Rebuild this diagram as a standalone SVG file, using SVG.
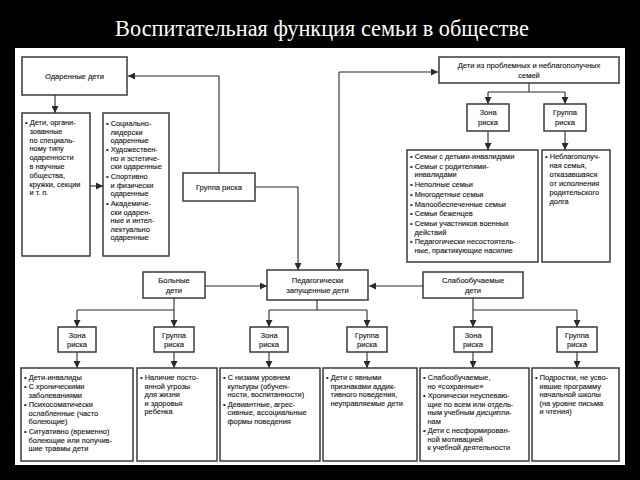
<svg xmlns="http://www.w3.org/2000/svg" width="640" height="480" viewBox="0 0 640 480">
<style>
.box{fill:#fff;stroke:#3a3a3a;stroke-width:1.5}
.t{font-family:"Liberation Sans",Arial,sans-serif;font-size:7.4px;fill:#141414;stroke:#141414;stroke-width:0.12}
.l{font-family:"Liberation Sans",Arial,sans-serif;font-size:7.6px;fill:#141414;stroke:#141414;stroke-width:0.12;text-anchor:middle}
.conn path{fill:none;stroke:#2a2a2a;stroke-width:1.1;marker-end:url(#ar)}
.conn path.n{marker-end:none}
</style>
<defs>
<marker id="ar" markerUnits="userSpaceOnUse" markerWidth="8" markerHeight="7" refX="7" refY="3.5" orient="auto">
<path d="M0,0 L7,3.5 L0,7 z" fill="#2a2a2a"/>
</marker>
</defs>
<rect x="0" y="0" width="640" height="480" fill="#000"/>
<text x="322" y="36" font-family="Liberation Serif,serif" font-size="22.3" fill="#fff" text-anchor="middle">Воспитательная функция семьи в обществе</text>
<rect x="15" y="48" width="610" height="417" fill="#fff"/>

<g class="conn">
<path d="M219,173 V76 H128"/>
<path d="M255,187 H298 V270"/>
<path d="M339,72 V270"/>
<path d="M339,72 H438"/>
<path d="M55,95 V113"/>
<path d="M90,186 H103"/>
<path class="n" d="M529,83 V92 M488,92 H565"/>
<path d="M488,92 V104"/>
<path d="M565,92 V104"/>
<path d="M488,131 V150"/>
<path d="M565,131 V150"/>
<path d="M205,286 H267"/>
<path d="M423,286 H369"/>
<path class="n" d="M174,298 V310 M77,310 H174"/>
<path d="M77,310 V327"/>
<path d="M174,310 V327"/>
<path d="M77,352 V368"/>
<path d="M174,352 V368"/>
<path class="n" d="M317,300 V310 M269,310 H367"/>
<path d="M269,310 V327"/>
<path d="M367,310 V327"/>
<path d="M269,352 V368"/>
<path d="M367,352 V368"/>
<path class="n" d="M473,298 V310 M473,310 H577"/>
<path d="M473,310 V327"/>
<path d="M577,310 V327"/>
<path d="M473,352 V368"/>
<path d="M577,352 V368"/>
</g>

<g id="gifted">
<rect class="box" x="22" y="57" width="105" height="38"/>
<text class="l" x="74.5" y="79">Одаренные дети</text>
</g>
<g id="gifted-list1">
<rect class="box" x="22" y="113" width="68" height="143"/>
<text class="t" x="25" y="125">• Дети, органи-</text>
<text class="t" x="29.5" y="133.8">зованные</text>
<text class="t" x="29.5" y="142.6">по специаль-</text>
<text class="t" x="29.5" y="151.4">ному типу</text>
<text class="t" x="29.5" y="160.2">одаренности</text>
<text class="t" x="29.5" y="169">в научные</text>
<text class="t" x="29.5" y="177.8">общества,</text>
<text class="t" x="29.5" y="186.6">кружки, секции</text>
<text class="t" x="29.5" y="195.4">и т. п.</text>
</g>
<g id="gifted-list2">
<rect class="box" x="103" y="113" width="66" height="143"/>
<text class="t" x="106" y="126">• Социально-</text>
<text class="t" x="110.5" y="134.5">лидерски</text>
<text class="t" x="110.5" y="143">одаренные</text>
<text class="t" x="106" y="152">• Художествен-</text>
<text class="t" x="110.5" y="160.5">но и эстетиче-</text>
<text class="t" x="110.5" y="169">ски одаренные</text>
<text class="t" x="106" y="179">• Спортивно</text>
<text class="t" x="110.5" y="187.5">и физически</text>
<text class="t" x="110.5" y="196">одаренные</text>
<text class="t" x="106" y="206">• Академиче-</text>
<text class="t" x="110.5" y="214.5">ски одарен-</text>
<text class="t" x="110.5" y="223">ные и интел-</text>
<text class="t" x="110.5" y="231.5">лектуально</text>
<text class="t" x="110.5" y="240">одаренные</text>
</g>
<g id="risk-group-top">
<rect class="box" x="183" y="173" width="72" height="28"/>
<text class="l" x="219" y="190">Группа риска</text>
</g>
<g id="families">
<rect class="box" x="439" y="57" width="180" height="26"/>
<text class="l" x="529" y="68">Дети из проблемных и неблагополучных</text>
<text class="l" x="529" y="77.5">семей</text>
</g>
<g id="fam-zone">
<rect class="box" x="467" y="104" width="42" height="27"/>
<text class="l" x="488" y="115">Зона</text>
<text class="l" x="488" y="124.5">риска</text>
</g>
<g id="fam-group">
<rect class="box" x="544" y="104" width="42" height="27"/>
<text class="l" x="565" y="115">Группа</text>
<text class="l" x="565" y="124.5">риска</text>
</g>
<g id="fam-zone-list">
<rect class="box" x="407" y="150" width="131" height="112"/>
<text class="t" x="410" y="159">• Семьи с детьми-инвалидами</text>
<text class="t" x="410" y="168.7">• Семьи с родителями-</text>
<text class="t" x="414.5" y="177.4">инвалидами</text>
<text class="t" x="410" y="187.1">• Неполные семьи</text>
<text class="t" x="410" y="196.8">• Многодетные семьи</text>
<text class="t" x="410" y="206.5">• Малообеспеченные семьи</text>
<text class="t" x="410" y="216.2">• Семьи беженцев</text>
<text class="t" x="410" y="225.9">• Семьи участников военных</text>
<text class="t" x="414.5" y="234.6">действий</text>
<text class="t" x="410" y="244.3">• Педагогически несостоятель-</text>
<text class="t" x="414.5" y="253">ные, практикующие насилие</text>
</g>
<g id="fam-group-list">
<rect class="box" x="542" y="150" width="68" height="112"/>
<text class="t" x="545" y="159">• Неблагополуч-</text>
<text class="t" x="549.5" y="168">ная семья,</text>
<text class="t" x="549.5" y="177">отказавшаяся</text>
<text class="t" x="549.5" y="186">от исполнения</text>
<text class="t" x="549.5" y="195">родительского</text>
<text class="t" x="549.5" y="204">долга</text>
</g>
<g id="sick">
<rect class="box" x="143" y="272" width="62" height="26"/>
<text class="l" x="174" y="283">Больные</text>
<text class="l" x="174" y="292.5">дети</text>
</g>
<g id="neglected">
<rect class="box" x="267" y="270" width="101" height="30"/>
<text class="l" x="317.5" y="283">Педагогически</text>
<text class="l" x="317.5" y="292.5">запущенные дети</text>
</g>
<g id="weak">
<rect class="box" x="423" y="272" width="100" height="26"/>
<text class="l" x="473" y="283">Слабообучаемые</text>
<text class="l" x="473" y="292.5">дети</text>
</g>
<g id="sick-zone">
<rect class="box" x="58" y="327" width="38" height="25"/>
<text class="l" x="77" y="337.5">Зона</text>
<text class="l" x="77" y="347">риска</text>
</g>
<g id="sick-group">
<rect class="box" x="154" y="327" width="40" height="25"/>
<text class="l" x="174" y="337.5">Группа</text>
<text class="l" x="174" y="347">риска</text>
</g>
<g id="neg-zone">
<rect class="box" x="250" y="327" width="38" height="25"/>
<text class="l" x="269" y="337.5">Зона</text>
<text class="l" x="269" y="347">риска</text>
</g>
<g id="neg-group">
<rect class="box" x="347" y="327" width="40" height="25"/>
<text class="l" x="367" y="337.5">Группа</text>
<text class="l" x="367" y="347">риска</text>
</g>
<g id="weak-zone">
<rect class="box" x="454" y="327" width="38" height="25"/>
<text class="l" x="473" y="337.5">Зона</text>
<text class="l" x="473" y="347">риска</text>
</g>
<g id="weak-group">
<rect class="box" x="557" y="327" width="40" height="25"/>
<text class="l" x="577" y="337.5">Группа</text>
<text class="l" x="577" y="347">риска</text>
</g>
<g id="sick-zone-list">
<rect class="box" x="21" y="368" width="112" height="93"/>
<text class="t" x="24" y="380">• Дети-инвалиды</text>
<text class="t" x="24" y="389">• С хроническими</text>
<text class="t" x="28.5" y="397.5">заболеваниями</text>
<text class="t" x="24" y="407">• Психосоматически</text>
<text class="t" x="28.5" y="415.5">ослабленные (часто</text>
<text class="t" x="28.5" y="424">болеющие)</text>
<text class="t" x="24" y="434">• Ситуативно (временно)</text>
<text class="t" x="28.5" y="442.5">болеющие или получив-</text>
<text class="t" x="28.5" y="451">шие травмы дети</text>
</g>
<g id="sick-group-list">
<rect class="box" x="137" y="368" width="80" height="93"/>
<text class="t" x="140" y="380">• Наличие посто-</text>
<text class="t" x="144.5" y="388.5">янной угрозы</text>
<text class="t" x="144.5" y="397">для жизни</text>
<text class="t" x="144.5" y="405.5">и здоровья</text>
<text class="t" x="144.5" y="414">ребенка</text>
</g>
<g id="neg-zone-list">
<rect class="box" x="220" y="368" width="100" height="93"/>
<text class="t" x="223" y="380">• С низким уровнем</text>
<text class="t" x="227.5" y="388.5">культуры (обучен-</text>
<text class="t" x="227.5" y="397">ности, воспитанности)</text>
<text class="t" x="223" y="406.5">• Девиантные, агрес-</text>
<text class="t" x="227.5" y="415">сивные, ассоциальные</text>
<text class="t" x="227.5" y="423.5">формы поведения</text>
</g>
<g id="neg-group-list">
<rect class="box" x="323" y="368" width="94" height="93"/>
<text class="t" x="326" y="380">• Дети с явными</text>
<text class="t" x="330.5" y="388.5">признаками аддик-</text>
<text class="t" x="330.5" y="397">тивного поведения,</text>
<text class="t" x="330.5" y="405.5">неуправляемые дети</text>
</g>
<g id="weak-zone-list">
<rect class="box" x="420" y="368" width="109" height="93"/>
<text class="t" x="423" y="380">• Слабообучаемые,</text>
<text class="t" x="427.5" y="388.5">но «сохранные»</text>
<text class="t" x="423" y="398">• Хронически неуспеваю-</text>
<text class="t" x="427.5" y="406.5">щие по всем или отдель-</text>
<text class="t" x="427.5" y="415">ным учебным дисципли-</text>
<text class="t" x="427.5" y="423.5">нам</text>
<text class="t" x="423" y="433">• Дети с несформирован-</text>
<text class="t" x="427.5" y="441.5">ной мотивацией</text>
<text class="t" x="427.5" y="450">к учебной деятельности</text>
</g>
<g id="weak-group-list">
<rect class="box" x="532" y="368" width="87" height="93"/>
<text class="t" x="535" y="380">• Подростки, не усво-</text>
<text class="t" x="539.5" y="388.5">ившие программу</text>
<text class="t" x="539.5" y="397">начальной школы</text>
<text class="t" x="539.5" y="405.5">(на уровне письма</text>
<text class="t" x="539.5" y="414">и чтения)</text>
</g>
</svg>
